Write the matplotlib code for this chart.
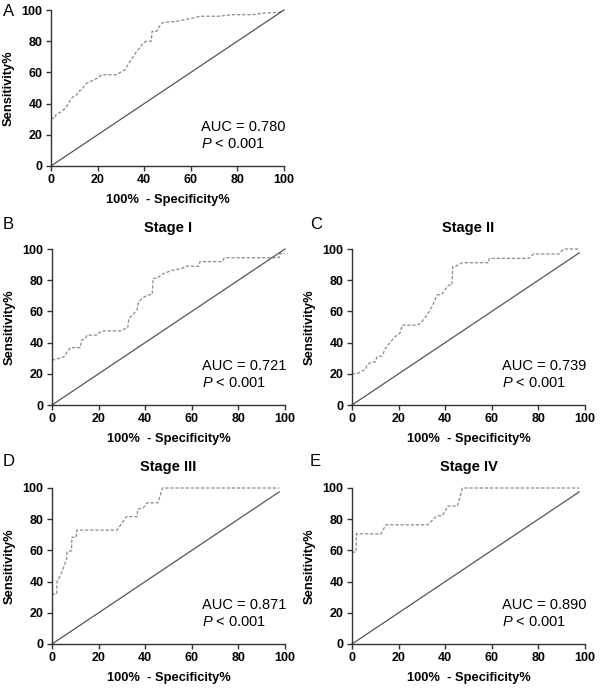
import matplotlib
matplotlib.use('Agg')
import matplotlib.pyplot as plt

plt.rcParams['font.family'] = ['Liberation Sans', 'DejaVu Sans']
plt.rcParams['mathtext.fontset'] = 'custom'
plt.rcParams['mathtext.rm'] = 'Liberation Sans'
plt.rcParams['mathtext.it'] = 'Liberation Sans:italic'

# ROC curves (x = 100% - specificity, y = sensitivity)
a_fpr = [0, 1.7, 2.1, 4.6, 6.7, 7.4, 8.9, 9.6, 11, 11.7, 13, 15.3, 18, 20, 21.7, 28,
         31.7, 33.9, 36.7, 38, 39.6, 41, 43, 43.4, 45.3, 46, 48, 53.9, 56, 61, 63.9,
         72, 78, 86.7, 91, 98, 100]
a_tpr = [30.6, 30.6, 32.8, 34.9, 38, 40, 43.5, 44.5, 45.6, 47.8, 48.8, 53, 55, 56.3,
         58.5, 58.5, 61.7, 67, 73.4, 75.6, 78.8, 80, 80, 86.3, 86.3, 88.4, 92, 92.7,
         93.4, 94.9, 96, 96, 97, 97, 98, 98.5, 100]

b_fpr = [0, 2.9, 5.7, 6.4, 7.9, 12.2, 12.6, 14.3, 15, 19.3, 20.8, 22.2, 29.4, 31.5,
         32.5, 33, 34.4, 36.5, 37.2, 38.7, 40.8, 43, 43.4, 45.1, 47.3, 50.9, 55.9,
         57.3, 63, 63.5, 73, 74, 97.4, 97.6, 100]
b_tpr = [28.7, 29.8, 31.3, 34.1, 36.8, 36.8, 41.5, 42.6, 44.8, 44.8, 46.9, 47.5, 47.5,
         49, 49.7, 55.5, 57.6, 60.8, 66.2, 68.3, 70.4, 70.9, 81.2, 81.2, 83.9, 86,
         87.6, 89, 89, 91.9, 91.9, 94.4, 94.4, 97, 97]

c_fpr = [0, 2.1, 4.3, 5.7, 6.7, 8.6, 10, 10.7, 12.2, 12.9, 14.3, 16.5, 19.3, 20.7,
         21.5, 27.9, 29.3, 32.2, 34.3, 36.5, 38.6, 40, 41.5, 42.9, 43.2, 44.6, 47.2,
         58.7, 58.9, 75.8, 78, 88.7, 90.8, 97.4]
c_tpr = [20.1, 20.1, 21.8, 22.7, 26.1, 27.6, 27.6, 30.8, 31.3, 31.3, 36.2, 40.5, 44.8,
         46.3, 51.2, 51.2, 52.2, 57.6, 63, 70.4, 71.1, 74.1, 76.9, 76.9, 88.7, 89,
         91.2, 91.2, 94, 94, 96.8, 96.8, 100, 100]

d_fpr = [0, 2.0, 2.2, 3.6, 6.3, 6.4, 8.4, 8.5, 10.4, 10.6, 27.9, 32, 36.5, 36.8,
         39.1, 40.8, 45.5, 47.4, 97.5]
d_tpr = [31.9, 31.9, 40.6, 43.7, 54.5, 58.8, 59.8, 68.4, 68.4, 73, 73, 81.7, 81.7,
         86.5, 87.2, 90.5, 90.5, 100, 100]

e_fpr = [0, 1.7, 1.9, 12.5, 14.5, 32.5, 35, 36.5, 38.7, 40.2, 40.9, 45.2, 47.4, 97.5]
e_tpr = [58.9, 58.9, 70.6, 70.6, 76.4, 76.4, 80.1, 82.2, 82.2, 85.7, 88.4, 88.4, 100, 100]

panels = ['A', 'B', 'C', 'D', 'E']
titles = ['', 'Stage I', 'Stage II', 'Stage III', 'Stage IV']
auc_values = ['0.780', '0.721', '0.739', '0.871', '0.890']
diag_end = [100, 100, 97.5, 97.5, 97.5]
curves = [(a_fpr, a_tpr), (b_fpr, b_tpr), (c_fpr, c_tpr), (d_fpr, d_tpr), (e_fpr, e_tpr)]

W, H = 600, 689
# axes boxes in pixels: left, top, right, bottom
boxes = [(51, 10, 284, 166), (52, 249, 285, 405), (352, 249, 585, 405),
         (52, 488, 285, 644), (352, 488, 585, 644)]
letter_pos = [(3, 12), (3, 224), (310, 224), (3, 461), (310, 461)]

fig = plt.figure(figsize=(W / 100, H / 100), dpi=100)
axis_col = '#333333'

for i, (l, t, r, b) in enumerate(boxes):
    ax = fig.add_axes([l / W, 1 - b / H, (r - l) / W, (b - t) / H])
    fpr, tpr = curves[i]
    ax.plot(fpr, tpr, color='#8a8a8a', lw=0.9, linestyle=(0, (2.6, 1.5)), clip_on=False)
    ax.plot([0, diag_end[i]], [0, diag_end[i]], color='#555555', lw=0.9, clip_on=False)
    ax.set_xlim(0, 100)
    ax.set_ylim(0, 100)
    ax.set_xticks([0, 20, 40, 60, 80, 100])
    ax.set_yticks([0, 20, 40, 60, 80, 100])
    for s in ['top', 'right']:
        ax.spines[s].set_visible(False)
    for s in ['left', 'bottom']:
        ax.spines[s].set_color(axis_col)
        ax.spines[s].set_linewidth(1.0)
    ax.tick_params(direction='out', length=3.5, width=1.0, color=axis_col,
                   labelsize=9, pad=2.5)
    for lab in ax.get_xticklabels() + ax.get_yticklabels():
        lab.set_fontweight('bold')
    ax.set_ylabel('Sensitivity%', fontsize=9.3, fontweight='bold')
    ax.set_xlabel('100%  - Specificity%', fontsize=9.3, fontweight='bold')
    ax.yaxis.set_label_coords(-0.155, 0.5)
    ax.xaxis.set_label_coords(0.5, -0.18)
    if titles[i]:
        ax.set_title(titles[i], fontsize=10.5, fontweight='bold', pad=12)
    ax.text(64.5, 25, 'AUC = ' + auc_values[i], fontsize=10.5, va='center', ha='left')
    ax.text(64.5, 14, '$P$ < 0.001', fontsize=10.5, va='center', ha='left')
    fig.text(letter_pos[i][0] / W, 1 - letter_pos[i][1] / H, panels[i],
             fontsize=12, va='center', ha='left')

fig.savefig('out.png', dpi=100)
